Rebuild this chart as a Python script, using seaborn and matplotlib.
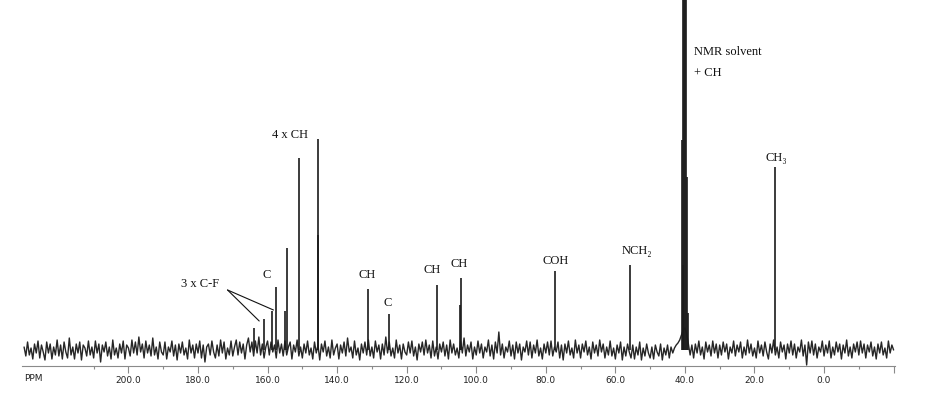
import numpy as np
import pandas as pd
import matplotlib
matplotlib.use("Agg")
import matplotlib.pyplot as plt
from matplotlib.ticker import FixedLocator, FixedFormatter
import seaborn as sns

# ---------------- data ----------------
# baseline trace, sampled every 0.5 ppm from 230.0 down to -20.0 ppm (values estimated)
baseline_start_ppm = 230.0
baseline_step_ppm = 0.5
baseline_values = [
    3, -6, 8, -5, 2, -9, 6, -3, 9, -8, 5, -2, -10, 8, -3, 6, -9, 3, -5, 10,
    -6, 5, -9, 8, -2, -8, 12, -5, 3, -9, 6, -3, 8, -10, 5, 2, -6, 9, -5, 3,
    -8, 9, -3, 6, -12, 5, -2, 8, -6, 3, -9, 10, -5, 2, -8, 6, -3, 9, -9, 5,
    2, -6, 10, -3, 8, -5, 13, -2, 6, -8, 9, -3, 5, -6, 12, -5, 3, -9, 8, -2,
    -5, 8, -9, 3, -2, 9, -6, 5, -10, 6, -3, 8, -5, 2, -9, 10, -3, 5, -8, 6,
    -3, 9, -8, 5, -12, 3, 6, -5, 9, -2, -8, 5, -6, 10, -3, 8, -9, 2, -5, 9,
    -6, 3, 10, -5, 8, -3, 6, -9, 5, 12, -2, 8, -6, 9, -3, 13, -5, 6, -8, 3,
    9, -5, 8, -2, 5, -8, 10, -3, 6, -6, 9, -5, 3, 8, -9, 5, -2, 10, -6, 3,
    -8, 6, -3, 9, -5, 2, -9, 8, -3, 5, -10, 6, -2, 9, -6, 3, -8, 10, -5, 2,
    6, -9, 5, -3, 8, -6, 12, -2, 3, -8, 9, -5, 2, -10, 6, -3, 8, -5, 10, -6,
    3, -8, 9, -2, 5, -9, 6, -5, 13, -3, 8, -6, 2, -8, 10, -3, 5, -9, 6, -2,
    -5, 8, -3, 9, -6, 3, -10, 6, -2, 8, -5, 10, -3, 5, -8, 9, -6, 3, -9, 6,
    -2, 8, -6, 5, -9, 10, -3, 6, -5, 2, -8, 9, -3, 12, -6, 5, -2, 8, -9, 3,
    -5, 9, -3, 6, -8, 3, -2, 10, -6, 5, -9, 8, -3, 18, -5, 6, -8, 3, -2, 9,
    -6, 5, -9, 8, -3, 6, -10, 3, -2, 9, -5, 8, -8, 5, -3, 10, -6, 2, -9, 6,
    -3, 8, -5, 9, -6, 3, -2, 8, -8, 5, -10, 6, -3, 9, -5, 2, -8, 10, -3, 5,
    -8, 6, -2, 9, -5, 3, -9, 8, -3, 5, -6, 10, -2, 6, -8, 3, -5, 9, -6, 2,
    -9, 5, -3, 8, -10, 3, -6, 6, -2, -8, 5, -9, 3, -5, 8, -10, 2, -6, 6, -3,
    -8, 3, -9, 5, -2, -6, 6, -10, 2, -5, 5, -8, 3, -3, 2, 5, 7, 10, 15, 20,
    22, 16, 6, -5, 5, -8, 6, -3, 9, -5, 3, -9, 8, -2, 5, -6, 9, -3, 6, -8,
    5, -5, 8, -2, 6, -9, 3, -3, 9, -6, 5, -2, 8, -8, 3, -5, 10, -3, 6, -6,
    2, -8, 9, -3, 5, -6, 8, -2, -9, 6, -3, 10, -5, 3, -8, 8, -2, 5, -9, 6,
    -3, 9, -5, 6, -8, 3, -2, 10, -6, 5, -15, 8, -3, 9, -5, 6, -8, 3, -2, 9,
    -6, 5, -3, 9, -8, 3, -5, 8, -2, 6, -9, 5, -3, 10, -6, 3, -8, 6, -2, 8,
    -5, 9, -3, 6, -8, 5, -2, 8, -6, 3, -9, 6, -3, 8, -5, 2, -8, 9, -3, 5,
    0,
]

# sharp resonances: chemical shift (ppm) and intensity (arbitrary units)
peak_ppm = [164.0, 160.9, 158.6, 157.5, 155.1, 154.4, 150.9, 145.6, 145.4,
            131.0, 125.0, 111.2, 104.6, 104.4, 77.3, 55.9,
            40.80, 40.60, 40.46, 40.17, 39.89, 39.60, 39.31, 39.02, 14.2]
peak_height = [22, 31, 39, 63, 39, 102, 192, 115, 211,
               61, 36, 65, 45, 72, 79, 85,
               210, 85, 400, 400, 400, 400, 173, 37, 183]

tick_values = [200, 180, 160, 140, 120, 100, 80, 60, 40, 20, 0, -20]
tick_labels = ["200.0", "180.0", "160.0", "140.0", "120.0", "100.0",
               "80.0", "60.0", "40.0", "20.0", "0.0", ""]
minor_tick_values = [210, 190, 170, 150, 130, 110, 90, 70, 50, 30, 10, -10]

# peak assignments (text, ppm, intensity position, alignment)
assignments = [
    ("4 x CH", 153.6, 215, "center"),
    ("C", 160.3, 75, "center"),
    ("3 x C-F", 179.4, 66, "center"),
    ("CH", 131.4, 75, "center"),
    ("C", 125.6, 47, "center"),
    ("CH", 112.7, 80, "center"),
    ("CH", 105.0, 86, "center"),
    ("COH", 77.3, 89, "center"),
    ("NCH\u2082", 53.9, 99, "center"),
    ("NMR solvent", 37.5, 298, "left"),
    ("+ CH", 37.5, 277, "left"),
    ("CH\u2083", 13.7, 192, "center"),
]
# leader lines for "3 x C-F": (from ppm, from int) -> (to ppm, to int)
leaders = [((171.5, 60), (158.3, 40)), ((171.5, 60), (162.4, 29))]

# ---------------- plotting ----------------
sns.set_theme(style="white")
plt.rcParams["font.family"] = ["Liberation Serif", "DejaVu Serif"]

ppm_grid = baseline_start_ppm - baseline_step_ppm * np.arange(len(baseline_values))
df = pd.DataFrame({"ppm": ppm_grid, "intensity": baseline_values})

fig = plt.figure(figsize=(9.39, 4.0), dpi=100)
ax = fig.add_axes([22 / 939, 34 / 400, 873 / 939, 366 / 400])

sns.lineplot(data=df, x="ppm", y="intensity", ax=ax, color="#262626",
             linewidth=1.0, estimator=None, sort=False)
ax.vlines(peak_ppm, 0, peak_height, color="#1a1a1a", linewidth=1.2)

ax.set_xlim(230.6, -20.4)
ax.set_ylim(-16, 350)

for side in ("top", "left", "right"):
    ax.spines[side].set_visible(False)
ax.spines["bottom"].set_color("#8a8a8a")
ax.spines["bottom"].set_linewidth(0.8)
ax.set_yticks([])
ax.set_xlabel("")
ax.set_ylabel("")

ax.xaxis.set_major_locator(FixedLocator(tick_values))
ax.xaxis.set_major_formatter(FixedFormatter(tick_labels))
ax.xaxis.set_minor_locator(FixedLocator(minor_tick_values))
ax.tick_params(axis="x", which="major", direction="out", length=5, width=0.8,
               color="#8a8a8a", pad=2, labelsize=6.5, labelcolor="#222222",
               bottom=True)
ax.tick_params(axis="x", which="minor", direction="out", length=2.5, width=0.8,
               color="#8a8a8a", bottom=True)
for lab in ax.get_xticklabels():
    lab.set_fontfamily(["Liberation Sans Narrow", "DejaVu Sans"])

ax.text(0.002, -0.035, "PPM", transform=ax.transAxes, ha="left", va="center",
        fontsize=6.5, color="#222222",
        family=["Liberation Sans Narrow", "DejaVu Sans"])

for text, xp, yp, ha in assignments:
    ax.text(xp, yp, text, ha=ha, va="center", fontsize=9, color="#111111")

for (x0, y0), (x1, y1) in leaders:
    ax.plot([x0, x1], [y0, y1], color="#111111", linewidth=0.8)

fig.savefig("out.png", dpi=100)
